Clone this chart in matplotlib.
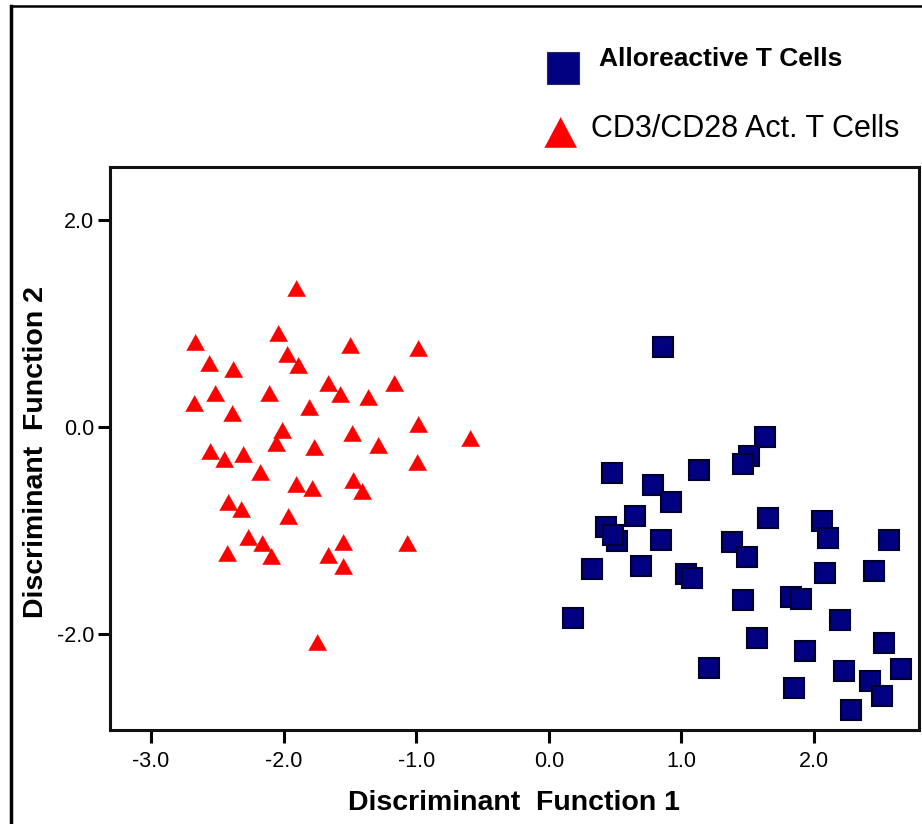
import matplotlib
matplotlib.use("Agg")
import matplotlib.pyplot as plt
from matplotlib.lines import Line2D

plt.rcParams["font.family"] = ["Liberation Sans", "DejaVu Sans"]
plt.rcParams["axes.unicode_minus"] = False

# Discriminant scores, alloreactive T cells (function 1, function 2)
allo_f1 = [0.859, 1.633, 1.510, 1.465, 0.474, 1.130, 0.788, 0.922, 0.652, 1.655,
           2.058, 0.429, 0.512, 0.486, 0.848, 1.379, 1.495, 2.106, 2.566, 0.324,
           0.698, 1.035, 1.078, 2.085, 2.450, 1.462, 1.829, 1.904, 0.185, 2.198,
           1.570, 1.934, 2.528, 1.206, 2.229, 2.656, 2.422, 2.511, 1.849, 2.279]
allo_f2 = [0.768, -0.103, -0.283, -0.361, -0.448, -0.416, -0.564, -0.725, -0.861, -0.880,
           -0.909, -0.967, -1.103, -1.047, -1.096, -1.118, -1.257, -1.079, -1.096, -1.379,
           -1.347, -1.427, -1.460, -1.418, -1.393, -1.676, -1.644, -1.669, -1.847, -1.869,
           -2.046, -2.166, -2.095, -2.337, -2.360, -2.343, -2.459, -2.602, -2.524, -2.740]

# Discriminant scores, CD3/CD28 activated T cells
act_f1 = [-1.906, -2.668, -2.040, -1.497, -0.984, -2.565, -2.382, -1.977, -1.894, -1.665,
          -1.165, -2.520, -2.673, -2.112, -1.572, -1.363, -1.808, -2.391, -0.984, -0.592,
          -2.012, -1.486, -2.060, -1.773, -1.286, -2.555, -2.447, -2.308, -0.996, -2.178,
          -1.909, -1.788, -1.479, -1.411, -2.422, -2.321, -1.965, -2.268, -2.165, -2.425,
          -2.097, -1.667, -1.550, -1.552, -1.072, -1.746]
act_f2 = [1.338, 0.822, 0.903, 0.790, 0.758, 0.613, 0.555, 0.700, 0.594, 0.426,
          0.420, 0.329, 0.226, 0.323, 0.313, 0.284, 0.188, 0.130, 0.023, -0.112,
          -0.029, -0.064, -0.161, -0.193, -0.177, -0.235, -0.312, -0.267, -0.338, -0.435,
          -0.557, -0.590, -0.515, -0.619, -0.731, -0.796, -0.867, -1.070, -1.128, -1.219,
          -1.250, -1.241, -1.118, -1.347, -1.128, -2.079]

group_labels = ["Alloreactive T Cells", "CD3/CD28 Act. T Cells"]
x_ticks = [-3.0, -2.0, -1.0, 0.0, 1.0, 2.0]
y_ticks = [-2.0, 0.0, 2.0]
x_label = "Discriminant  Function 1"
y_label = "Discriminant  Function 2"

W, H = 922, 824
fig = plt.figure(figsize=(W / 100, H / 100), dpi=100)
fig.patch.set_facecolor("white")

def fx(px):
    return px / W

def fy(py):
    return 1 - py / H

ax = fig.add_axes([fx(110), fy(730), fx(919) - fx(110), fy(167) - fy(730)])
ax.set_xlim(-3.309, 2.792)
ax.set_ylim(-2.933, 2.512)

navy = "#000080"
navy_edge = "#000030"
red = "#ff0000"
tri_plot = [(-1, -0.89), (1, -0.89), (0, 0.89)]

ax.plot(act_f1, act_f2, linestyle="none", marker=tri_plot, markersize=13,
        markerfacecolor=red, markeredgecolor=red, markeredgewidth=0.4)
ax.plot(allo_f1, allo_f2, linestyle="none", marker="s", markersize=13.8,
        markerfacecolor=navy, markeredgecolor=navy_edge, markeredgewidth=1.5)

ax.set_xticks(x_ticks)
ax.set_yticks(y_ticks)
ax.set_xticklabels([f"{v:.1f}" for v in x_ticks])
ax.set_yticklabels([f"{v:.1f}" for v in y_ticks])
ax.tick_params(axis="both", direction="out", length=9, width=2.2, colors="black",
               labelsize=15.5)
ax.tick_params(axis="x", pad=6.3)
ax.tick_params(axis="y", pad=2.2)
for sp in ax.spines.values():
    sp.set_linewidth(2.2)
    sp.set_color("#111111")

# Axis titles
fig.text(fx(514), fy(810), x_label, ha="center", va="baseline",
         fontsize=20.5, fontweight="bold")
fig.text(fx(43), fy(452), y_label, ha="center", va="baseline", rotation=90,
         rotation_mode="anchor", fontsize=20.5, fontweight="bold")

# Legend entries
tri_leg = [(-1, -0.94), (1, -0.94), (0, 0.94)]
fig.add_artist(Line2D([fx(563)], [fy(67.5)], transform=fig.transFigure,
                      linestyle="none", marker="s", markersize=23.5,
                      markerfacecolor=navy, markeredgecolor="#2a2a60",
                      markeredgewidth=0.8))
fig.add_artist(Line2D([fx(559.5)], [fy(132.3)], transform=fig.transFigure,
                      linestyle="none", marker=tri_leg, markersize=23,
                      markerfacecolor=red, markeredgecolor=red,
                      markeredgewidth=0.4))
fig.text(fx(599), fy(66.5), group_labels[0], ha="left", va="baseline",
         fontsize=19, fontweight="bold")
fig.text(fx(591), fy(136.7), group_labels[1], ha="left", va="baseline",
         fontsize=22)

# Outer frame lines (left and top)
fig.add_artist(Line2D([fx(11), fx(11)], [0, fy(6)], transform=fig.transFigure,
                      color="black", linewidth=2.5, solid_capstyle="projecting"))
fig.add_artist(Line2D([fx(11), 1], [fy(6), fy(6)], transform=fig.transFigure,
                      color="black", linewidth=1.8, solid_capstyle="projecting"))

fig.savefig("out.png", dpi=100, facecolor="white")
